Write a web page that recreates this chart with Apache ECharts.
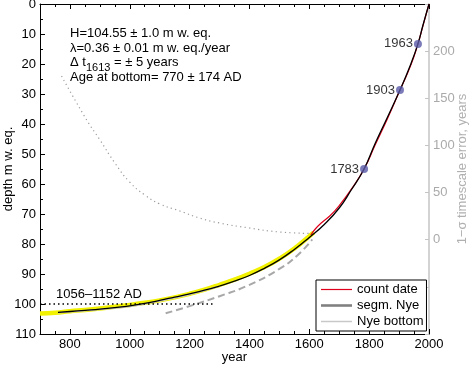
<!DOCTYPE html>
<html><head><meta charset="utf-8">
<script src="https://cdn.jsdelivr.net/npm/echarts@6/dist/echarts.min.js"></script>
<style>html,body{margin:0;padding:0;background:#fff}#c{width:470px;height:368px}</style>
</head><body><div id="c"></div>
<script>
// ---- data ----
const nyeYears  = [2000,1980,1963,1940,1903,1860,1820,1783,1740,1700,1650,1600,1550,1500,1450,1400,1350,1300,1250,1200,1150,1100,1050,1000,950,900,850,800,760];
const nyeDepth  = [0,7,13.3,19.8,28.7,38,46.5,55,62,68,73.5,77.8,81.8,85.3,88.1,90.5,92.4,94,95.4,96.6,97.7,98.8,99.8,100.6,101.2,101.7,102.1,102.5,102.8];
const countYears = [2000,1980,1963,1940,1903,1860,1820,1783,1740,1700,1670,1640,1620,1605];
const countDepth = [0,7.2,13.3,20.2,28.7,38.5,47,55,61.8,67.2,70.5,73,75,77];
const bandYears = [700,750,800,850,900,950,1000,1050,1100,1150,1200,1250,1300,1350,1400,1450,1500,1550,1600,1615];
const bandDepth = [103.2,102.9,102.4,102.0,101.5,100.9,100.3,99.6,98.8,97.8,96.6,95.2,93.6,91.9,89.9,87.7,84.9,81.5,77.4,76.2];
const bottomYears = [760,800,900,1000,1100,1200,1300];
const bottomDepth = [102.9,102.6,101.8,100.8,99.0,96.8,94.1];
const dashYears = [1120,1200,1300,1400,1500,1560,1610];
const dashDepth = [103.1,100.7,97.4,93.6,88.3,83.8,78.5];
const errYears = [772,856,900,950,1000,1050,1100,1167,1233,1300,1400,1500,1610];
const errVals  = [173.6,127,106,81.5,61,47.5,38,30.5,23,17.7,12.4,8.2,6.6];
const markYears = [1783,1903,1963];
const markDepth = [55,28.7,13.3];
const rangeYears = [700,1285];
const rangeDepth = [100,100];
const xMajor = [800,1000,1200,1400,1600,1800,2000];

const zip = (a,b) => a.map((v,i)=>[v,b[i]]);
const FONT = 'Liberation Sans, Arial, Helvetica, sans-serif';

const chart = echarts.init(document.getElementById('c'), null, {renderer:'canvas'});
const baseX = {type:'value', min:700, max:2000, gridIndex:0, splitLine:{show:false}};
chart.setOption({
  animation:false,
  textStyle:{fontFamily:FONT},
  grid:{left:40, right:41, top:4, bottom:34, containLabel:false, outerBoundsMode:'none'},
  xAxis:[
    Object.assign({}, baseX, {position:'bottom', interval:50,
      name:'year', nameLocation:'middle', nameGap:17, nameMoveOverlap:false,
      nameTextStyle:{color:'#000', fontSize:13, fontFamily:FONT},
      axisLine:{show:true, onZero:false, lineStyle:{color:'#000', width:1}},
      axisTick:{show:true, inside:true, length:5, customValues:xMajor, lineStyle:{color:'#000'}},
      axisLabel:{show:true, customValues:xMajor, color:'#000', fontSize:13, margin:4, fontFamily:FONT,
        formatter:v => String(v)}}),
    Object.assign({}, baseX, {position:'bottom', interval:50,
      axisLine:{show:false, onZero:false}, axisTick:{show:true, inside:true, length:3, lineStyle:{color:'#000'}},
      axisLabel:{show:false}}),
    Object.assign({}, baseX, {position:'top', interval:50,
      axisLine:{show:true, onZero:false, lineStyle:{color:'#000'}}, axisTick:{show:true, inside:true, length:3, lineStyle:{color:'#000'}},
      axisLabel:{show:false}}),
    Object.assign({}, baseX, {position:'top', interval:50,
      axisLine:{show:false, onZero:false}, axisTick:{show:true, inside:true, length:5, customValues:xMajor, lineStyle:{color:'#000'}},
      axisLabel:{show:false}})
  ],
  yAxis:[
    {type:'value', min:0, max:110, interval:10, inverse:true, position:'left',
      name:'depth m w. eq.', nameLocation:'middle', nameGap:25, nameRotate:90, nameMoveOverlap:false,
      nameTextStyle:{color:'#000', fontSize:13, fontFamily:FONT},
      axisLine:{show:true, onZero:false, lineStyle:{color:'#000'}},
      axisTick:{show:true, inside:true, length:5, lineStyle:{color:'#000'}},
      minorTick:{show:true, splitNumber:2, length:3, lineStyle:{color:'#000'}},
      axisLabel:{color:'#000', fontSize:13, margin:4, fontFamily:FONT},
      splitLine:{show:false}},
    {type:'value', min:-100, max:250, interval:50, position:'right',
      name:'1\u2212\u03c3 timescale error, years', nameLocation:'middle', nameGap:27, nameRotate:90, nameMoveOverlap:false,
      nameTextStyle:{color:'#b0b0b0', fontSize:13, fontFamily:FONT},
      axisLine:{show:true, onZero:false, lineStyle:{color:'#c4c4c4', width:1.5}},
      axisTick:{show:true, inside:true, length:4, lineStyle:{color:'#c4c4c4'}},
      axisLabel:{color:'#aaaaaa', fontSize:13, margin:4, fontFamily:FONT,
        formatter:v => (v>=0 && v<=200) ? String(v) : ''},
      splitLine:{show:false}}
  ],
  legend:{
    orient:'vertical', left:316, top:280, selectedMode:false,
    backgroundColor:'#fff', borderColor:'#000', borderWidth:1, borderRadius:0,
    padding:[3,3,3,5], itemGap:3, itemWidth:31, itemHeight:12, symbolKeepAspect:true,
    textStyle:{color:'#000', fontSize:13, fontFamily:FONT},
    data:[
      {name:'count date', icon:'path://M0,0H31V1.2H0Z', itemStyle:{color:'#e0001b'}},
      {name:'segm. Nye', icon:'path://M0,0H31V2.6H0Z', itemStyle:{color:'#808080'}},
      {name:'Nye bottom', icon:'path://M0,0H31V1.5H0Z', itemStyle:{color:'#c8c8c8'}}
    ]
  },
  series:[
    {name:'band', type:'line', data:zip(bandYears,bandDepth), symbol:'none', smooth:true,
      lineStyle:{color:'#f2f200', width:4.5}, z:1},
    {name:'Nye bottom', type:'line', data:zip(bottomYears,bottomDepth), symbol:'none', smooth:true,
      lineStyle:{color:'#c8c8c8', width:1.5}, z:2},
    {name:'dash', type:'line', data:zip(dashYears,dashDepth), symbol:'none', smooth:true,
      lineStyle:{color:'#a8a8a8', width:2, type:[7,4]}, z:2},
    {name:'range', type:'line', data:zip(rangeYears,rangeDepth), symbol:'none',
      lineStyle:{color:'#000', width:1.5, type:[1.5,3]}, z:3},
    {name:'error', type:'line', yAxisIndex:1, data:zip(errYears,errVals), symbol:'none', smooth:true,
      lineStyle:{color:'#9a9a9a', width:1.2, type:[1.2,3.3]}, z:2},
    {name:'count date', type:'line', data:zip(countYears,countDepth), symbol:'none', smooth:true,
      lineStyle:{color:'#e0001b', width:1.2}, z:4},
    {name:'segm. Nye', type:'line', data:zip(nyeYears,nyeDepth), symbol:'none', smooth:true,
      lineStyle:{color:'#000', width:1.3}, z:5},
    {name:'marks', type:'scatter', data:zip(markYears,markDepth), symbolSize:8,
      itemStyle:{color:'#5a5aa8'}, z:6,
      label:{show:true, position:'left', distance:1, color:'#000', fontSize:13, fontFamily:FONT,
        formatter:p => String(p.value[0])}}
  ],
  graphic:[
    {type:'text', left:70, top:27, style:{text:'H=104.55 \u00b1 1.0 m w. eq.', fill:'#000', font:'13px '+FONT}},
    {type:'text', left:70, top:42, style:{text:'\u03bb=0.36 \u00b1 0.01 m w. eq./year', fill:'#000', font:'13px '+FONT}},
    {type:'text', left:70, top:56, style:{text:'{a|\u0394 t}{s|1613}{a| = \u00b1 5 years}', fill:'#000',
      rich:{a:{fontSize:13, fontFamily:FONT, fill:'#000', verticalAlign:'top', lineHeight:14},
            s:{fontSize:11, fontFamily:FONT, fill:'#000', verticalAlign:'top', padding:[6,0,0,0], lineHeight:14}}}},
    {type:'text', left:70, top:71, style:{text:'Age at bottom= 770 \u00b1 174 AD', fill:'#000', font:'13px '+FONT}},
    {type:'text', left:56, top:288, style:{text:'1056\u20131152 AD', fill:'#000', font:'13px '+FONT}}
  ]
});
</script></body></html>
